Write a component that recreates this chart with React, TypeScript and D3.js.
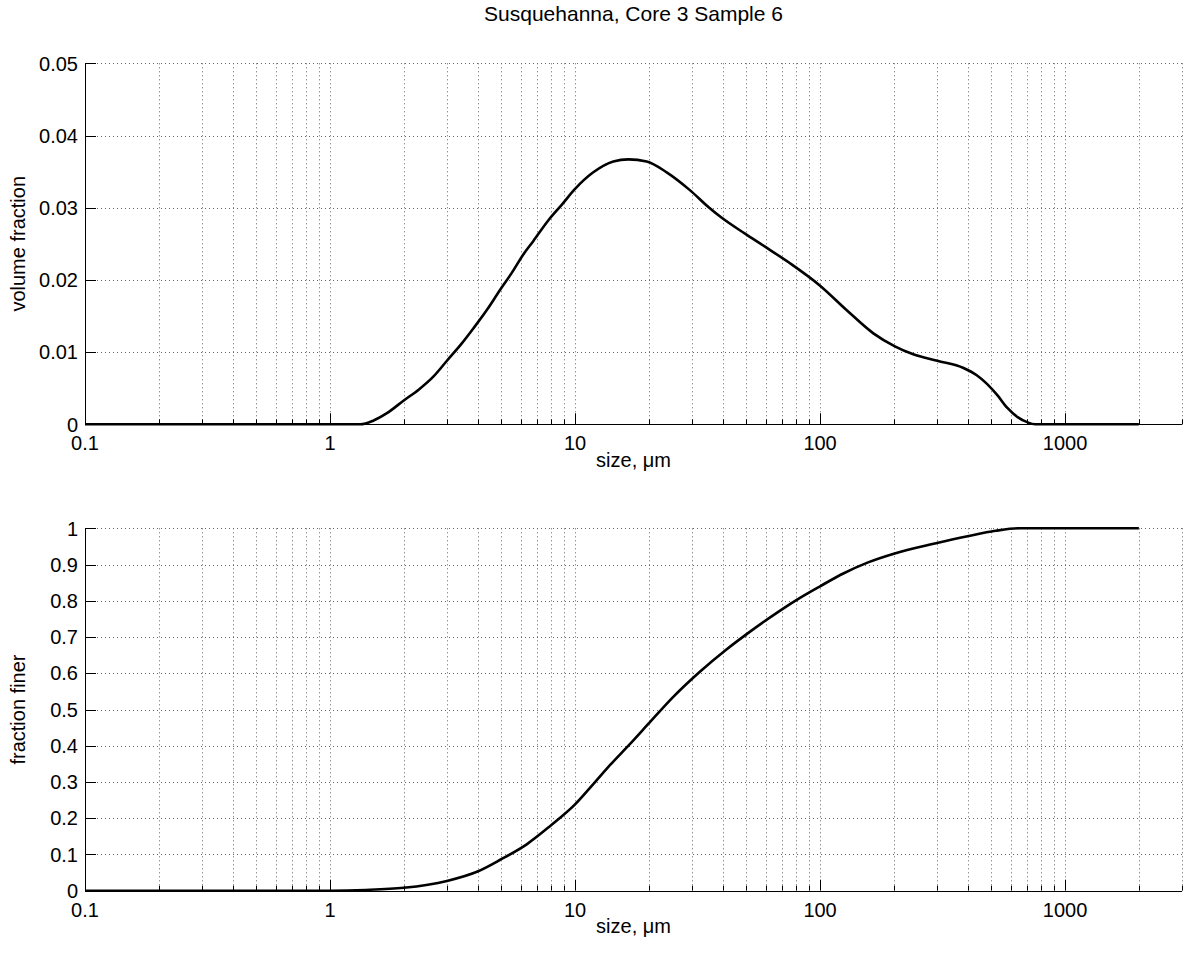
import React from "react";
import * as d3 from "d3";

const titleText = "Susquehanna, Core 3 Sample 6";
const xLabel = "size, \u03bcm";
const yLabelTop = "volume fraction";
const yLabelBottom = "fraction finer";

const volSize = [0.1, 1.0, 1.33, 1.5, 1.7, 2.0, 2.3, 2.64, 3.0, 3.45, 3.85, 4.4, 4.94, 5.5, 6.2, 6.76, 7.8, 8.82, 10, 11.87, 14.33, 16.5, 19.6, 23.66, 29.5, 35, 39.7, 49.4, 59.6, 75.4, 100, 128.5, 165, 202, 240, 301, 385, 436, 480, 530, 580, 640, 700, 755, 1000, 2000];
const volFraction = [0, 0, 0, 0.0005, 0.0015, 0.0033, 0.0048, 0.0066, 0.0088, 0.0112, 0.0133, 0.016, 0.0186, 0.0209, 0.0237, 0.0254, 0.0283, 0.0304, 0.0326, 0.0349, 0.0364, 0.0367, 0.0364, 0.0349, 0.0324, 0.0301, 0.0286, 0.0264, 0.0246, 0.0223, 0.0192, 0.0158, 0.0126, 0.0108, 0.0097, 0.0088, 0.0078, 0.0068, 0.0056, 0.004, 0.0023, 0.001, 0.0003, 0, 0, 0];

const cumSize = [0.1, 1.0, 1.4, 2.0, 3.0, 4.0, 5.0, 6.35, 7.9, 10, 11.87, 14, 16.77, 19.9, 25, 32.4, 41, 51.8, 68.7, 82.8, 100, 125, 157, 200, 294, 400, 520, 650, 2000];
const cumFraction = [0, 0, 0.002, 0.008, 0.027, 0.053, 0.087, 0.128, 0.178, 0.238, 0.294, 0.349, 0.405, 0.46, 0.533, 0.605, 0.663, 0.715, 0.773, 0.808, 0.84, 0.876, 0.906, 0.93, 0.958, 0.978, 0.993, 1, 1];

const xTicks = [0.1, 1, 10, 100, 1000];
const xTickLabels = ["0.1", "1", "10", "100", "1000"];
const yTicksTop = [0, 0.01, 0.02, 0.03, 0.04, 0.05];
const yTickLabelsTop = ["0", "0.01", "0.02", "0.03", "0.04", "0.05"];
const yTicksBottom = [0, 0.1, 0.2, 0.3, 0.4, 0.5, 0.6, 0.7, 0.8, 0.9, 1];
const yTickLabelsBottom = ["0", "0.1", "0.2", "0.3", "0.4", "0.5", "0.6", "0.7", "0.8", "0.9", "1"];

const FONT = "'Liberation Sans', Arial, Helvetica, sans-serif";
const LEFT = 85;
const RIGHT = 1182;

const minorX: number[] = [];
[0.1, 1, 10, 100, 1000].forEach((d) => {
  for (let k = 2; k <= 9; k++) {
    const v = d * k;
    if (v <= 3000) minorX.push(v);
  }
});

function Panel({ top, bottom, yDomain, yTicks, yTickLabels, xs, ys, yLabel }: any) {
  const x = d3.scaleLog().domain([0.1, 3000]).range([LEFT, RIGHT]);
  const y = d3.scaleLinear().domain(yDomain).range([bottom, top]);
  const line = d3
    .line<number>()
    .x((_, i) => x(xs[i]))
    .y((d) => y(d))
    .curve(d3.curveMonotoneX);
  const gridStyle = { stroke: "#666", strokeWidth: 1, strokeDasharray: "1 3", fill: "none" };
  const cy = (top + bottom) / 2;
  return (
    <g>
      {[...minorX, ...xTicks.slice(1)].map((v, i) => (
        <line key={"gx" + i} x1={Math.round(x(v)) + 0.5} x2={Math.round(x(v)) + 0.5} y1={top} y2={bottom} style={gridStyle} />
      ))}
      {yTicks.slice(1).map((v: number, i: number) => (
        <line key={"gy" + i} x1={LEFT} x2={RIGHT} y1={Math.round(y(v)) + 0.5} y2={Math.round(y(v)) + 0.5} style={gridStyle} />
      ))}
      <line x1={LEFT + 0.5} x2={LEFT + 0.5} y1={top} y2={bottom} stroke="#000" strokeWidth={1} />
      <line x1={LEFT} x2={RIGHT} y1={Math.round(bottom) + 0.5} y2={Math.round(bottom) + 0.5} stroke="#000" strokeWidth={1} />
      {xTicks.map((v, i) => (
        <line key={"xt" + i} x1={Math.round(x(v)) + 0.5} x2={Math.round(x(v)) + 0.5} y1={bottom} y2={bottom - 11} stroke="#000" />
      ))}
      {minorX.map((v, i) => (
        <line key={"xm" + i} x1={Math.round(x(v)) + 0.5} x2={Math.round(x(v)) + 0.5} y1={bottom} y2={bottom - 5} stroke="#000" />
      ))}
      {yTicks.map((v: number, i: number) => (
        <line key={"yt" + i} x1={LEFT} x2={LEFT + 11} y1={Math.round(y(v)) + 0.5} y2={Math.round(y(v)) + 0.5} stroke="#000" />
      ))}
      {xTicks.map((v, i) => (
        <text key={"xl" + i} x={x(v)} y={bottom + 26} textAnchor="middle" fontSize={20} fontFamily={FONT} fill="#000">
          {xTickLabels[i]}
        </text>
      ))}
      {yTicks.map((v: number, i: number) => (
        <text key={"yl" + i} x={78} y={y(v) + 7.2} textAnchor="end" fontSize={20} fontFamily={FONT} fill="#000">
          {yTickLabels[i]}
        </text>
      ))}
      <text x={(LEFT + RIGHT) / 2} y={bottom + 42.5} textAnchor="middle" fontSize={20} fontFamily={FONT} fill="#000">
        {xLabel}
      </text>
      <text transform={`translate(25,${cy}) rotate(-90)`} textAnchor="middle" fontSize={20} fontFamily={FONT} fill="#000">
        {yLabel}
      </text>
      <path d={line(ys) || ""} fill="none" stroke="#000" strokeWidth={2.6} strokeLinejoin="round" />
    </g>
  );
}

export default function App() {
  return (
    <div style={{ position: "absolute", left: 0, top: 0 }}>
      <svg width={1188} height={953} style={{ display: "block", background: "#fff" }}>
        <rect x={0} y={0} width={1188} height={953} fill="#fff" />
        <text x={(LEFT + RIGHT) / 2} y={20.7} textAnchor="middle" fontSize={21} fontFamily={FONT} fill="#000">
          {titleText}
        </text>
        <Panel
          top={63.3}
          bottom={424.3}
          yDomain={[0, 0.05]}
          yTicks={yTicksTop}
          yTickLabels={yTickLabelsTop}
          xs={volSize}
          ys={volFraction}
          yLabel={yLabelTop}
        />
        <Panel
          top={528.3}
          bottom={890.7}
          yDomain={[0, 1]}
          yTicks={yTicksBottom}
          yTickLabels={yTickLabelsBottom}
          xs={cumSize}
          ys={cumFraction}
          yLabel={yLabelBottom}
        />
      </svg>
    </div>
  );
}
